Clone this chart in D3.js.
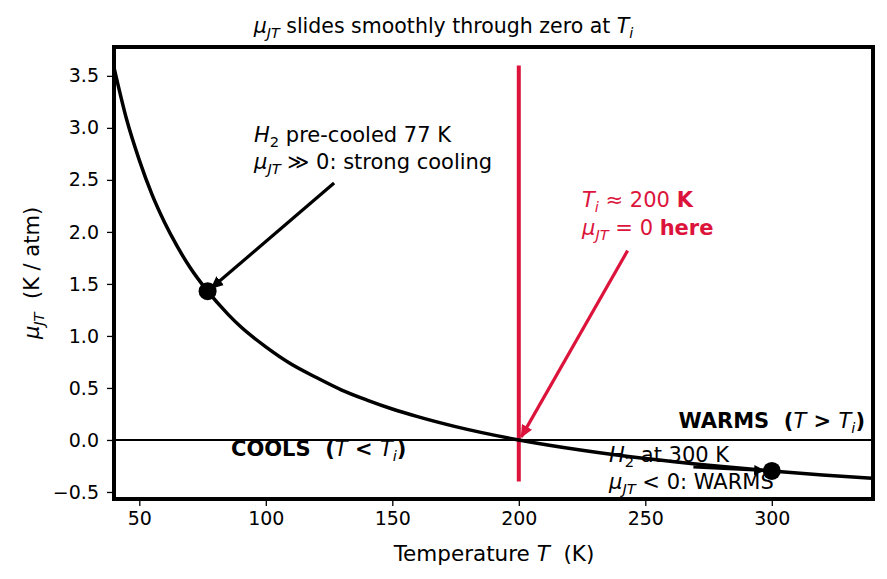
<!DOCTYPE html>
<html>
<head>
<meta charset="utf-8">
<script src="https://cdn.jsdelivr.net/npm/d3@7"></script>
<style>
  body { margin: 0; background: #fff; }
  text { font-family: "DejaVu Sans", sans-serif; white-space: pre; }
</style>
</head>
<body>
<div id="chart"></div>
<script>
// values
var temps = [40, 45, 50, 55, 60, 65, 70, 77, 85, 90, 100, 110, 120, 130, 140, 150, 160, 175, 200, 225, 250, 275, 300, 320, 340];
var mu    = [3.58, 3.08, 2.69, 2.36, 2.09, 1.86, 1.66, 1.43, 1.21, 1.09, 0.895, 0.73, 0.60, 0.48, 0.384, 0.298, 0.224, 0.128, 0.0, -0.099, -0.179, -0.244, -0.298, -0.336, -0.369];
var markT = [77, 300];
var markMu = [1.43, -0.298];
var xTicks = [50, 100, 150, 200, 250, 300];
var yTicks = [-0.5, 0.0, 0.5, 1.0, 1.5, 2.0, 2.5, 3.0, 3.5];
var Ti = 200;
var tiSpan = [-0.4, 3.6];

var W = 887, H = 579;
var margin = {top: 47, right: 14, bottom: 80, left: 114},
    width = W - margin.left - margin.right,
    height = H - margin.top - margin.bottom;

var svg = d3.select("#chart").append("svg")
    .attr("width", W).attr("height", H);

var defs = svg.append("defs");
function arrowMarker(id, color) {
  defs.append("marker")
      .attr("id", id)
      .attr("viewBox", "0 -5 10 10")
      .attr("refX", 9).attr("refY", 0)
      .attr("markerWidth", 4).attr("markerHeight", 4)
      .attr("markerUnits", "strokeWidth")
      .attr("orient", "auto")
    .append("path")
      .attr("d", "M0,-4.5L10,0L0,4.5Z")
      .attr("fill", color);
}
arrowMarker("ahBlack", "#000");
arrowMarker("ahRed", "#dc143c");

var g = svg.append("g")
    .attr("transform", "translate(" + margin.left + "," + margin.top + ")");

var x = d3.scaleLinear().domain([40, 340]).range([0, width]);
var y = d3.scaleLinear().domain([-0.5675, 3.7775]).range([height, 0]);

// clip so the curve stays inside the frame
defs.append("clipPath").attr("id", "clip")
  .append("rect").attr("width", width).attr("height", height);

var plot = g.append("g").attr("clip-path", "url(#clip)");

// zero line
plot.append("line")
    .attr("x1", 0).attr("x2", width)
    .attr("y1", y(0)).attr("y2", y(0))
    .attr("stroke", "#000").attr("stroke-width", 2);

// inversion temperature line
plot.append("line")
    .attr("x1", x(Ti)).attr("x2", x(Ti))
    .attr("y1", y(tiSpan[0])).attr("y2", y(tiSpan[1]))
    .attr("stroke", "#dc143c").attr("stroke-width", 4);

var line = d3.line()
    .x(function(d, i) { return x(temps[i]); })
    .y(function(d) { return y(d); })
    .curve(d3.curveMonotoneX);

plot.append("path")
    .datum(mu)
    .attr("d", line)
    .attr("fill", "none")
    .attr("stroke", "#000")
    .attr("stroke-width", 3.5);

// annotation arrows [fromT, fromMu, toT, toMu, color, width, marker]
var arrows = [
  [127, 2.47, 78.5, 1.46, "#000", 3.2, "ahBlack"],
  [243, 1.82, 201, 0.03, "#dc143c", 3.2, "ahRed"],
  [269, -0.26, 297, -0.295, "#000", 2.8, "ahBlack"]
];
arrows.forEach(function(a) {
  g.append("line")
      .attr("x1", x(a[0])).attr("y1", y(a[1]))
      .attr("x2", x(a[2])).attr("y2", y(a[3]))
      .attr("stroke", a[4]).attr("stroke-width", a[5])
      .attr("marker-end", "url(#" + a[6] + ")");
});

// marked points
g.selectAll("circle.mark")
  .data(markT)
  .enter().append("circle")
    .attr("class", "mark")
    .attr("cx", function(d) { return x(d); })
    .attr("cy", function(d, i) { return y(markMu[i]); })
    .attr("r", 9)
    .attr("fill", "#000");

// axes
var xAxis = g.append("g")
    .attr("transform", "translate(0," + height + ")")
    .call(d3.axisBottom(x).tickValues(xTicks).tickSize(7).tickPadding(6));
var yAxis = g.append("g")
    .call(d3.axisLeft(y).tickValues(yTicks).tickSize(7).tickPadding(8)
      .tickFormat(function(d) { return d3.format(".1f")(d).replace("-", "\u2212"); }));
[xAxis, yAxis].forEach(function(ax) {
  ax.select(".domain").remove();
  ax.selectAll("text").attr("font-size", 19).attr("fill", "#000")
    .attr("font-family", "DejaVu Sans, sans-serif");
  ax.selectAll("line").attr("stroke", "#000").attr("stroke-width", 1.3);
});

// frame
g.append("rect")
    .attr("width", width).attr("height", height)
    .attr("fill", "none").attr("stroke", "#000").attr("stroke-width", 4);

// rich text helper: parts = [text, style] where style: i italic, s subscript, b bold
function rich(parent, px, py, parts, opts) {
  opts = opts || {};
  var size = opts.size || 20;
  var t = parent.append("text")
      .attr("x", px).attr("y", py)
      .attr("font-size", size)
      .attr("fill", opts.color || "#000")
      .attr("text-anchor", opts.anchor || "start");
  if (opts.bold) t.attr("font-weight", "bold");
  if (opts.rotate) t.attr("transform", "rotate(" + opts.rotate + "," + px + "," + py + ")");
  var sub = false;
  parts.forEach(function(p) {
    var ts = t.append("tspan").text(p[0]);
    var st = p[1] || "";
    if (st.indexOf("i") >= 0) ts.attr("font-style", "italic").attr("font-weight", "normal");
    if (st.indexOf("b") >= 0) ts.attr("font-weight", "bold");
    if (st.indexOf("s") >= 0) {
      ts.attr("font-size", size * 0.7);
      if (!sub) ts.attr("dy", size * 0.22);
      sub = true;
    } else if (sub) {
      ts.attr("dy", -size * 0.22);
      sub = false;
    }
  });
  return t;
}

// title, centred on the figure
rich(svg, 443.5, 33, [["\u03bc", "i"], ["JT", "is"], [" slides smoothly through zero at "], ["T", "i"], ["i", "is"]],
  {size: 20.5, anchor: "middle"});

// axis labels
rich(svg, 494, 561, [["Temperature "], ["T", "i"], ["  (K)"]], {size: 21.5, anchor: "middle"});
rich(svg, 39, 273, [["\u03bc", "i"], ["JT", "is"], ["  (K / atm)"]], {size: 21, anchor: "middle", rotate: -90});

// annotations
rich(svg, 254, 142, [["H", "i"], ["2", "s"], [" pre-cooled 77 K"]], {size: 21});
rich(svg, 254, 169, [["\u03bc", "i"], ["JT", "is"], [" \u226b 0: strong cooling"]], {size: 21});

rich(svg, 582, 207, [["T", "i"], ["i", "is"], [" \u2248 200 "], ["K", "b"]], {size: 21, color: "#dc143c"});
rich(svg, 582, 235, [["\u03bc", "i"], ["JT", "is"], [" = 0 "], ["here", "b"]], {size: 21, color: "#dc143c"});

rich(svg, 865, 428, [["WARMS  ("], ["T", "i"], [" > "], ["T", "i"], ["i", "is"], [")"]], {size: 21, anchor: "end", bold: true});
rich(svg, 231, 456, [["COOLS  ("], ["T", "i"], [" < "], ["T", "i"], ["i", "is"], [")"]], {size: 21, bold: true});

rich(svg, 609, 462, [["H", "i"], ["2", "s"], [" at 300 K"]], {size: 21});
rich(svg, 609, 489, [["\u03bc", "i"], ["JT", "is"], [" < 0: WARMS"]], {size: 21});
</script>
</body>
</html>
